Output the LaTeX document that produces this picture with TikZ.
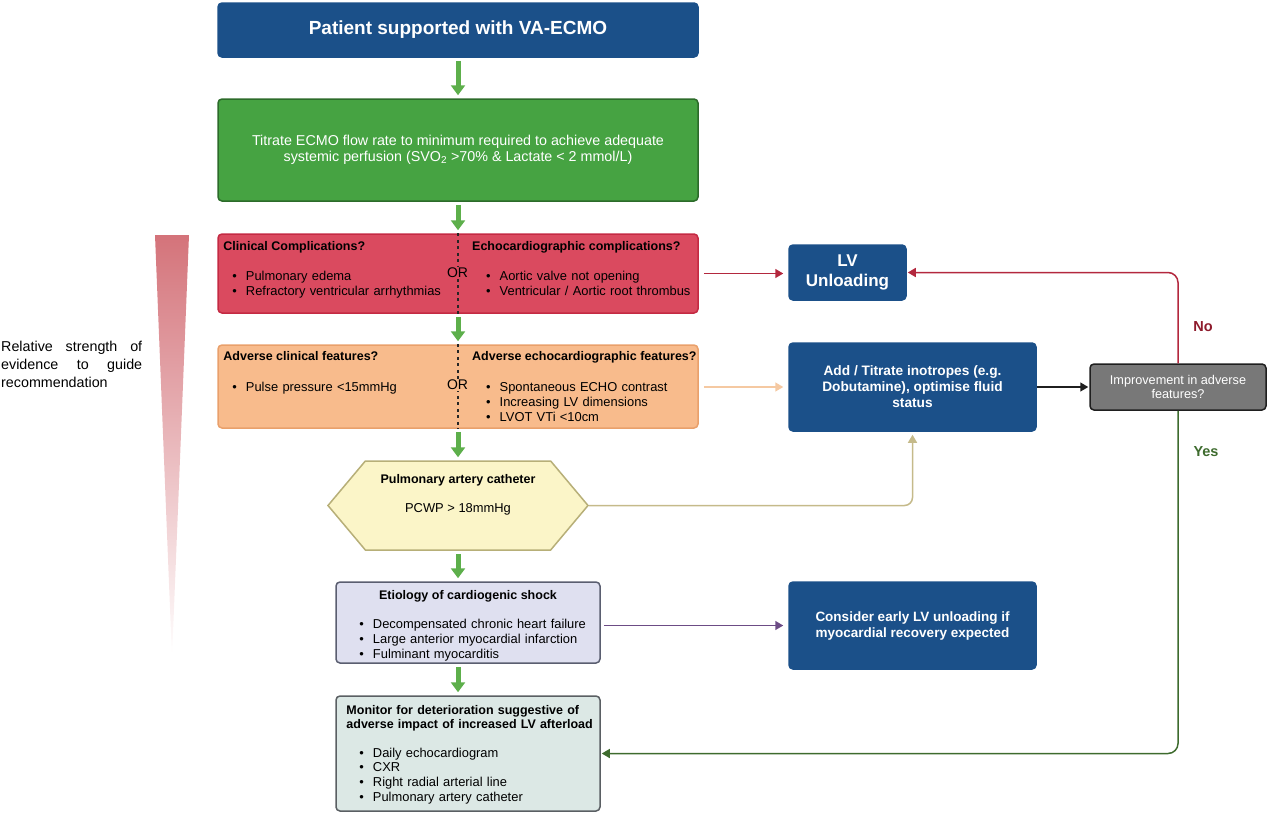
\documentclass[tikz,border=0pt]{standalone}
\usepackage{fontspec}
\setmainfont{Liberation Sans}
\usetikzlibrary{arrows.meta,shapes.symbols}

\definecolor{boxblue}{HTML}{1B5089}
\definecolor{greenfill}{HTML}{46A342}
\definecolor{greenline}{HTML}{2C6B2A}
\definecolor{redfill}{HTML}{DA4A5F}
\definecolor{redline}{HTML}{C42A43}
\definecolor{orangefill}{HTML}{F8BB8C}
\definecolor{orangeline}{HTML}{E9A06B}
\definecolor{hexfill}{HTML}{FBF5C8}
\definecolor{hexline}{HTML}{B7AF78}
\definecolor{etiofill}{HTML}{DFE0F0}
\definecolor{etioline}{HTML}{5A5E70}
\definecolor{monfill}{HTML}{DCE8E5}
\definecolor{monline}{HTML}{5A5F63}
\definecolor{greyfill}{HTML}{787878}
\definecolor{arrowgreen}{HTML}{5DAF4B}
\definecolor{unloadred}{HTML}{B3283E}
\definecolor{nored}{HTML}{8E1B2C}
\definecolor{peach}{HTML}{F5C9A2}
\definecolor{olive}{HTML}{C5BA8A}
\definecolor{violet}{HTML}{6C4C85}
\definecolor{yesgreen}{HTML}{3E6B2E}
\definecolor{pinktop}{HTML}{D4737A}

\newcommand{\itm}{\textbullet\hspace{9pt}}

\begin{document}
\begin{tikzpicture}[x=1pt, y=-1pt,
    box/.style={rectangle, rounded corners=4pt, line width=1.5pt, inner sep=0pt},
    bluebox/.style={box, fill=boxblue, draw=boxblue, text=white, align=center},
    txt/.style={inner sep=0pt, anchor=base west, align=left, text width=300pt, font=\fontsize{12.9}{15}\selectfont},
    headtxt/.style={inner sep=0pt, anchor=base west, font=\fontsize{12.5}{15}\selectfont\bfseries},
    downarrow/.style={line width=5pt, draw=arrowgreen, -{Triangle[length=10pt,width=14pt]}, shorten <=3pt, shorten >=3pt},
    sidearrow/.style={line width=1.5pt, -{Triangle[length=8pt,width=9pt]}}]

    \useasboundingbox (0,0) rectangle (1268,814);

    % Draw the strength wedge and its label
    \shade[top color=pinktop, bottom color=white] (155,235) -- (189,235) -- (172,658) -- cycle;
    \node[inner sep=0pt, anchor=base west, text width=141pt, align=left, font=\fontsize{14.3}{18}\selectfont] (evidence) at (1,351)
        {Relative\hfill strength\hfill of\\evidence\hfill to\hfill guide\\recommendation};

    % Draw the main column
    \node[bluebox, minimum width=480pt, minimum height=54pt, font=\fontsize{19}{22}\selectfont\bfseries] (top) at (458,30) {Patient supported with VA-ECMO};
    \node[box, fill=greenfill, draw=greenline, text=white, align=center, minimum width=480pt, minimum height=102pt, font=\fontsize{14.3}{16}\selectfont] (flow) at (458,150)
        {Titrate ECMO flow rate to minimum required to achieve adequate\\systemic perfusion (SVO\textsubscript{2} >70\% \& Lactate < 2 mmol/L)};
    \node[box, fill=redfill, draw=redline, minimum width=480pt, minimum height=79pt] (clin) at (458,273.5) {};
    \node[box, fill=orangefill, draw=orangeline, minimum width=480pt, minimum height=83pt] (adv) at (458,386.5) {};
    \node[signal, signal to=east and west, signal pointer angle=100, fill=hexfill, draw=hexline, line width=1.5pt, inner sep=0pt, minimum width=260pt, minimum height=89pt] (pac) at (458,505.5) {};
    \node[box, fill=etiofill, draw=etioline, minimum width=264pt, minimum height=81pt] (etio) at (468,622.5) {};
    \node[box, fill=monfill, draw=monline, minimum width=264pt, minimum height=115pt] (mon) at (468,753.5) {};

    % Draw the OR divider
    \draw[line width=1.6pt, dash pattern=on 3pt off 3.5pt, draw=black!85] (clin.north) -- (adv.south);
    \node[fill=redfill, inner sep=1pt, font=\fontsize{14}{16}\selectfont] (or1) at (457.5,273) {OR};
    \node[fill=orangefill, inner sep=1pt, font=\fontsize{14}{16}\selectfont] (or2) at (457.5,385) {OR};

    % Texts of the complication boxes
    \node[headtxt] (clinhead) at ([xshift=6pt,yshift=-17pt]clin.north west) {Clinical Complications?};
    \node[txt] (clinlist) at ([xshift=15pt,yshift=-47pt]clin.north west)
        {\itm Pulmonary edema\\\itm Refractory ventricular arrhythmias};
    \node[headtxt] (echohead) at ([xshift=14pt,yshift=-17pt]clin.north) {Echocardiographic complications?};
    \node[txt] (echolist) at ([xshift=28pt,yshift=-47pt]clin.north)
        {\itm Aortic valve not opening\\\itm Ventricular / Aortic root thrombus};

    \node[headtxt] (advhead) at ([xshift=6pt,yshift=-16pt]adv.north west) {Adverse clinical features?};
    \node[txt] (advlist) at ([xshift=15pt,yshift=-47pt]adv.north west)
        {\itm Pulse pressure <15mmHg};
    \node[headtxt] (advechohead) at ([xshift=14pt,yshift=-16pt]adv.north) {Adverse echocardiographic features?};
    \node[txt] (advecholist) at ([xshift=28pt,yshift=-47pt]adv.north)
        {\itm Spontaneous ECHO contrast\\\itm Increasing LV dimensions\\\itm LVOT VTi <10cm};

    % Texts of the catheter, etiology and monitor boxes
    \node[headtxt, anchor=base] (pachead) at ([yshift=22.5pt]pac.center) {Pulmonary artery catheter};
    \node[inner sep=0pt, anchor=base, font=\fontsize{12.9}{15}\selectfont] (pcwp) at ([yshift=-6.5pt]pac.center) {PCWP > 18mmHg};

    \node[headtxt, anchor=base] (etiohead) at ([yshift=-18pt]etio.north) {Etiology of cardiogenic shock};
    \node[txt] (etiolist) at ([xshift=24pt,yshift=-47pt]etio.north west)
        {\itm Decompensated chronic heart failure\\\itm Large anterior myocardial infarction\\\itm Fulminant myocarditis};

    \node[txt, font=\fontsize{12.5}{14}\selectfont\bfseries] (monhead) at ([xshift=11pt,yshift=-19pt]mon.north west)
        {Monitor for deterioration suggestive of\\adverse impact of increased LV afterload};
    \node[txt, font=\fontsize{12.9}{14.7}\selectfont] (monlist) at ([xshift=24pt,yshift=-62pt]mon.north west)
        {\itm Daily echocardiogram\\\itm CXR\\\itm Right radial arterial line\\\itm Pulmonary artery catheter};

    % Draw the right column
    \node[bluebox, minimum width=117pt, minimum height=55pt, font=\fontsize{17}{20}\selectfont\bfseries] (lvu) at (847.5,272.5) {LV\\Unloading};
    \node[bluebox, minimum width=247pt, minimum height=88pt, font=\fontsize{13.7}{16}\selectfont\bfseries] (inotrope) at (912.5,387)
        {Add / Titrate inotropes (e.g.\\Dobutamine), optimise fluid\\status};
    \node[bluebox, minimum width=247pt, minimum height=87pt, font=\fontsize{13.5}{16}\selectfont\bfseries] (consider) at (912.5,625.5)
        {Consider early LV unloading if\\myocardial recovery expected};
    \node[box, fill=greyfill, draw=black!88, text=white, align=center, minimum width=176pt, minimum height=46pt, font=\fontsize{12.7}{14}\selectfont] (improve) at (1178,387)
        {Improvement in adverse\\features?};
    \node[inner sep=0pt, text=nored, font=\fontsize{14.5}{16}\selectfont\bfseries] (no) at (1203,327) {No};
    \node[inner sep=0pt, text=yesgreen, font=\fontsize{14.5}{16}\selectfont\bfseries] (yes) at (1206,452) {Yes};

    % Draw the green arrows down the main column
    \foreach \from/\to in {top/flow, flow/clin, clin/adv, adv/pac, pac/etio, etio/mon} {
        \draw[downarrow] (\from.south -| top.south) -- (\to.north -| top.south);
    }

    % Draw the side connectors
    \draw[sidearrow, unloadred, shorten <=5pt, shorten >=5pt] (clin.east) -- (clin.east -| lvu.west);
    \draw[sidearrow, peach, shorten <=5pt, shorten >=5pt] (adv.east |- inotrope.west) -- (inotrope.west);
    \draw[sidearrow, olive, rounded corners=8pt, shorten >=3pt] (pac.east) -| (inotrope.south);
    \draw[sidearrow, black!88, shorten >=1pt] (inotrope.east) -- (improve.west);
    \draw[sidearrow, unloadred, rounded corners=10pt, shorten >=1pt] (improve.north) |- (lvu.east);
    \draw[sidearrow, yesgreen, rounded corners=10pt, shorten >=1pt] (improve.south) |- (mon.east);
    \draw[sidearrow, violet, shorten <=3pt, shorten >=5pt] (etio.east |- consider.west) -- (consider.west);
\end{tikzpicture}
\end{document}
